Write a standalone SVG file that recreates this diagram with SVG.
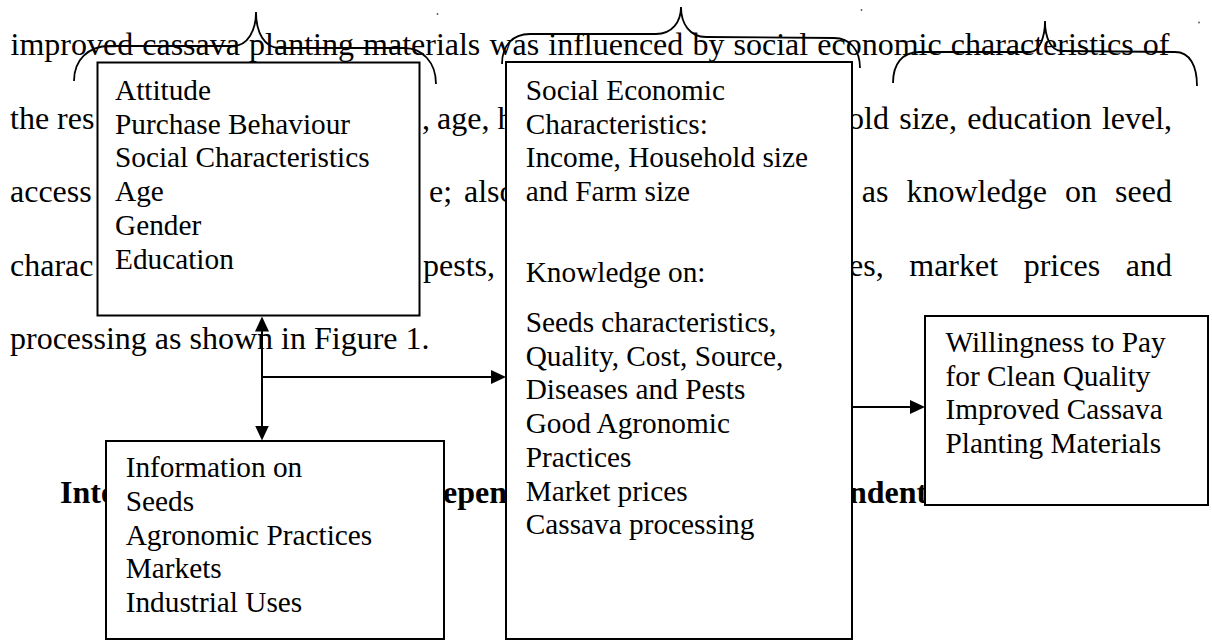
<svg xmlns="http://www.w3.org/2000/svg" width="1212" height="641" viewBox="0 0 1212 641">
<style>
.body{font-family:"Liberation Serif","Times New Roman",serif;font-size:32px;fill:#000}
.bold{font-weight:bold}
.box{fill:#fff;stroke:#000;stroke-width:2}
.bt{font-family:"Liberation Serif","Times New Roman",serif;font-size:29.3px;fill:#000}
.brace{fill:none;stroke:#000;stroke-width:1.8}
.conn{stroke:#000;stroke-width:2;fill:none}
</style>
<defs>
<marker id="ah" viewBox="0 0 15 14" refX="12" refY="7" markerWidth="15" markerHeight="14" markerUnits="userSpaceOnUse" orient="auto-start-reverse"><path d="M0,0 L15,7 L0,14 z" fill="#000"/></marker>
</defs>
<rect width="1212" height="641" fill="#fff"/>
<g id="page-text" class="body">
<text x="10.5" y="55" word-spacing="1.1">improved cassava planting materials was influenced by social economic characteristics of</text>
<text x="10" y="128.6">the res</text>
<text y="128.6"><tspan x="422">,</tspan><tspan x="437">age,</tspan><tspan x="497.5">h</tspan></text>
<text x="848" y="128.6" word-spacing="2.3">old size, education level,</text>
<text x="10" y="202">access</text>
<text x="429" y="202">e;</text>
<text x="464" y="202">also</text>
<text x="861.7" y="202" word-spacing="10.1">as knowledge on seed</text>
<text x="10" y="275.6">charac</text>
<text x="423" y="275.6">pests,</text>
<text x="849" y="275.6" word-spacing="17.6">es, market prices and</text>
<text x="10" y="349">processing as shown in Figure 1.</text>
<text class="bold" x="60" y="503">Inte</text>
<text class="bold" x="443" y="503">epen</text>
<text class="bold" x="849" y="503">ndent</text>
</g>
<g id="braces">
<path class="brace" d="M74 81 C74 60 88 46 110 46 L233 46 C248 46 256 30 256 12 C256 32 264 48 280 48 L404 48 C422 48 436 62 436 84"/>
<path class="brace" d="M502 64 C502 46 512 34 530 34 L656 34 C672 34 681 22 681 7 C681 24 690 37 706 37 L834 38 C850 38 860 50 860 68"/>
<path class="brace" d="M893 83 C893 64 902 52 920 52 L1030 52 C1040 52 1045 36 1045 21 C1045 36 1050 51 1062 51 L1175 52 C1190 52 1197 66 1197 86"/>
<circle cx="437.5" cy="14" r="0.9" fill="#555"/>
<circle cx="861.5" cy="10" r="0.9" fill="#555"/>
<circle cx="1199" cy="22.5" r="0.9" fill="#555"/>
</g>
<g id="node-attitude">
<rect class="box" x="97.5" y="62.5" width="322" height="253"/>
<text class="bt"><tspan x="115" y="100">Attitude</tspan><tspan x="115" y="133.7">Purchase Behaviour</tspan><tspan x="115" y="167.4">Social Characteristics</tspan><tspan x="115" y="201">Age</tspan><tspan x="115" y="234.8">Gender</tspan><tspan x="115" y="268.5">Education</tspan></text>
</g>
<g id="node-socioeconomic">
<rect class="box" x="506" y="62" width="346" height="577"/>
<text class="bt"><tspan x="525.7" y="100">Social Economic</tspan><tspan x="525.7" y="133.7">Characteristics:</tspan><tspan x="525.7" y="167.4">Income, Household size</tspan><tspan x="525.7" y="201">and Farm size</tspan><tspan x="525.7" y="282">Knowledge on:</tspan><tspan x="525.7" y="332">Seeds characteristics,</tspan><tspan x="525.7" y="365.7">Quality, Cost, Source,</tspan><tspan x="525.7" y="399.4">Diseases and Pests</tspan><tspan x="525.7" y="433">Good Agronomic</tspan><tspan x="525.7" y="466.8">Practices</tspan><tspan x="525.7" y="500.5">Market prices</tspan><tspan x="525.7" y="534.2">Cassava processing</tspan></text>
</g>
<g id="node-willingness">
<rect class="box" x="925" y="316" width="283" height="189"/>
<text class="bt"><tspan x="945.5" y="352">Willingness to Pay</tspan><tspan x="945.5" y="385.7">for Clean Quality</tspan><tspan x="945.5" y="419.4">Improved Cassava</tspan><tspan x="945.5" y="453">Planting Materials</tspan></text>
</g>
<g id="node-information">
<rect class="box" x="106" y="441" width="338" height="198"/>
<text class="bt"><tspan x="125.7" y="477">Information on</tspan><tspan x="125.7" y="511">Seeds</tspan><tspan x="125.7" y="544.5">Agronomic Practices</tspan><tspan x="125.7" y="578">Markets</tspan><tspan x="125.7" y="612">Industrial Uses</tspan></text>
</g>
<g id="connectors">
<line class="conn" x1="262" y1="319.5" x2="262" y2="437.5" marker-start="url(#ah)" marker-end="url(#ah)"/>
<line class="conn" x1="262" y1="377" x2="503" y2="377" marker-end="url(#ah)"/>
<line class="conn" x1="852" y1="407" x2="922" y2="407" marker-end="url(#ah)"/>
</g>
</svg>
